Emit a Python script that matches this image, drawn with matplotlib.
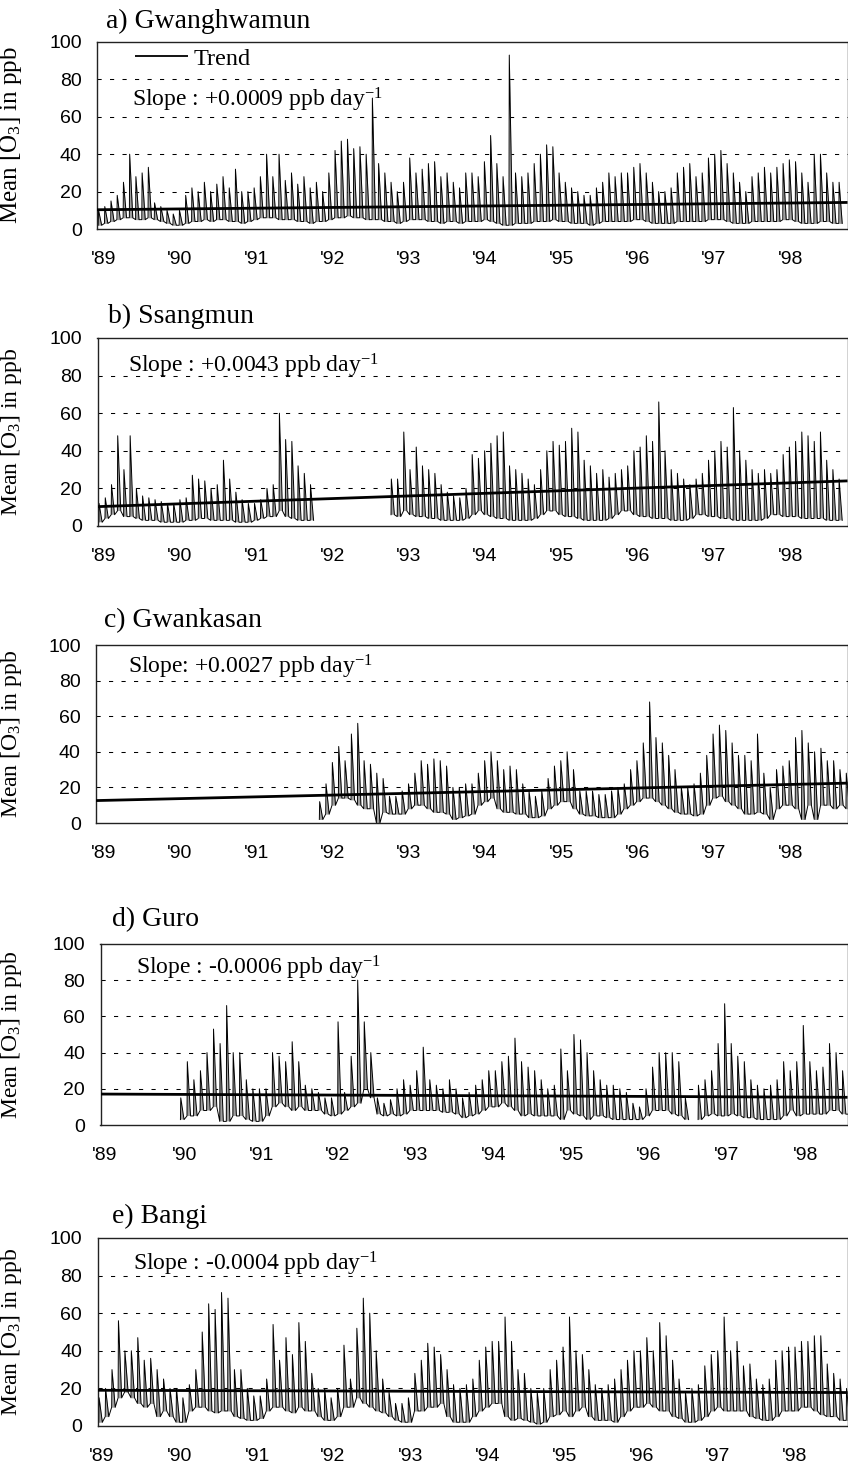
import numpy as np
import matplotlib
matplotlib.use("Agg")
import matplotlib.pyplot as plt

N = None
W, H = 848, 1468

plt.rcParams['font.family'] = ['Liberation Serif', 'DejaVu Serif']
plt.rcParams['mathtext.fontset'] = 'custom'
plt.rcParams['mathtext.rm'] = 'Liberation Serif'
plt.rcParams['mathtext.it'] = 'Liberation Serif:italic'
plt.rcParams['mathtext.bf'] = 'Liberation Serif:bold'

# ---------------- data (monthly upper / lower envelope of daily means, ppb) ----------
YEAR_LABELS = ["'89", "'90", "'91", "'92", "'93", "'94", "'95", "'96", "'97", "'98"]
Y_TICKS = [0, 20, 40, 60, 80, 100]
STATIONS = ["a) Gwanghwamun", "b) Ssangmun", "c) Gwankasan", "d) Guro", "e) Bangi"]
SLOPES = ["Slope : +0.0009 ppb day$^{-1}$", "Slope : +0.0043 ppb day$^{-1}$",
          "Slope: +0.0027 ppb day$^{-1}$", "Slope : -0.0006 ppb day$^{-1}$",
          "Slope : -0.0004 ppb day$^{-1}$"]
TREND_START = [10.3, 10.3, 12.6, 17.1, 19.0]
TREND_END = [14.2, 24.0, 22.4, 15.3, 17.8]

GW_HI = [10, 12, 15, 18, 25, 40, 28, 30, 33, 14, 12, 10,
         8, 10, 18, 22, 20, 25, 20, 24, 28, 22, 32, 20,
         20, 22, 28, 40, 28, 40, 26, 30, 24, 28, 22, 25,
         20, 30, 42, 47, 48, 43, 44, 40, 70, 35, 30, 25,
         20, 25, 38, 30, 32, 35, 36, 28, 30, 25, 22, 30,
         30, 28, 36, 50, 35, 28, 93, 30, 28, 30, 35, 40,
         45, 44, 30, 25, 22, 20, 18, 18, 22, 25, 30, 28,
         30, 30, 33, 35, 30, 25, 20, 20, 22, 30, 33, 35,
         28, 30, 38, 40, 42, 35, 30, 25, 20, 28, 30, 33,
         30, 33, 35, 37, 36, 30, 25, 40, 40, 30, 25, 25]
GW_LO = [2, 3, 4, 5, 6, 6, 5, 5, 6, 5, 4, 3,
         2, 2, 3, 4, 4, 5, 4, 5, 5, 4, 4, 3,
         4, 5, 6, 6, 6, 5, 5, 5, 4, 4, 3, 4,
         4, 5, 6, 6, 7, 6, 6, 5, 5, 5, 4, 4,
         3, 4, 5, 5, 5, 4, 4, 3, 4, 4, 3, 4,
         4, 4, 5, 4, 3, 2, 2, 3, 3, 3, 4, 4,
         4, 5, 4, 4, 3, 3, 3, 2, 3, 4, 4, 4,
         4, 4, 5, 5, 4, 3, 3, 3, 3, 4, 4, 4,
         4, 4, 5, 5, 5, 4, 3, 3, 3, 4, 4, 4,
         4, 4, 5, 5, 4, 3, 3, 3, 4, 4, 3, 3]

SS_HI = [12, 15, 22, 48, 30, 48, 20, 16, 15, 14, 13, 12,
         12, 14, 15, 27, 25, 24, 20, 22, 35, 25, 18, 14,
         12, 12, 14, 20, 22, 60, 46, 45, 32, 28, 22, N,
         N, N, N, N, N, N, N, N, N, N, N, 25,
         25, 50, 30, 42, 32, 30, 28, 22, 18, 16, 15, 20,
         38, 36, 40, 44, 48, 50, 32, 30, 28, 25, 22, 30,
         40, 45, 43, 45, 52, 50, 35, 32, 28, 30, 26, 28,
         30, 32, 40, 42, 48, 45, 66, 40, 30, 28, 25, 22,
         25, 28, 35, 40, 45, 42, 63, 40, 35, 30, 28, 30,
         28, 30, 38, 42, 45, 50, 48, 45, 50, 35, 30, 25]
SS_LO = [2, 4, 6, 8, 5, 5, 4, 3, 3, 3, 2, 2,
         2, 2, 3, 3, 4, 4, 3, 3, 3, 3, 2, 2,
         2, 3, 4, 5, 5, 8, 5, 4, 3, 3, 3, N,
         N, N, N, N, N, N, N, N, N, N, N, 6,
         5, 8, 6, 5, 5, 4, 4, 3, 3, 3, 3, 4,
         6, 8, 6, 5, 4, 4, 3, 3, 3, 3, 4, 6,
         8, 8, 6, 5, 5, 4, 3, 3, 3, 3, 4, 6,
         8, 8, 6, 5, 5, 4, 4, 4, 3, 3, 3, 4,
         6, 6, 5, 5, 4, 4, 3, 3, 3, 3, 3, 4,
         6, 6, 5, 5, 5, 4, 4, 4, 4, 3, 3, 3]

GK_HI = [N, N, N, N, N, N, N, N, N, N, N, N,
         N, N, N, N, N, N, N, N, N, N, N, N,
         N, N, N, N, N, N, N, N, N, N, N, 12,
         22, 34, 43, 35, 50, 56, 35, 33, 28, 25, 15, 15,
         18, 22, 28, 35, 33, 36, 35, 32, 20, 20, 22, 22,
         28, 35, 40, 35, 30, 32, 30, 22, 18, 15, 18, 25,
         32, 35, 40, 30, 18, 18, 18, 16, 16, 18, 20, 22,
         30, 35, 45, 68, 48, 45, 38, 30, 20, 20, 22, 28,
         38, 50, 55, 52, 45, 38, 38, 35, 50, 28, 20, 30,
         32, 35, 48, 52, 45, 40, 42, 35, 35, 30, 28, N]
GK_LO = [N, N, N, N, N, N, N, N, N, N, N, N,
         N, N, N, N, N, N, N, N, N, N, N, N,
         N, N, N, N, N, N, N, N, N, N, N, 2,
         5, 10, 14, 14, 13, 10, 8, 8, 0, 6, 5, 5,
         5, 8, 10, 10, 8, 6, 6, 5, 2, 3, 4, 5,
         10, 12, 14, 8, 6, 6, 5, 5, 3, 3, 4, 8,
         10, 12, 12, 8, 5, 4, 4, 3, 3, 3, 5, 8,
         10, 12, 14, 14, 12, 10, 8, 6, 5, 5, 4, 5,
         10, 14, 15, 12, 10, 8, 5, 5, 6, 5, 2, 8,
         10, 10, 8, 2, 10, 2, 10, 10, 8, 10, 8, N]

GU_HI = [N, N, N, N, N, N, N, N, N, N, N, N,
         15, 35, 25, 30, 40, 53, 45, 66, 40, 40, 25, 20,
         20, 20, 40, 38, 35, 46, 35, 22, 20, 18, 15, 15,
         57, 18, 38, 80, 57, 40, 15, 12, 14, 20, 25, 22,
         30, 43, 25, 22, 20, 25, 20, 15, 18, 22, 25, 30,
         30, 35, 38, 48, 35, 32, 30, 25, 20, 22, 42, 30,
         50, 47, 40, 30, 25, 22, 22, 20, 18, 12, 10, 20,
         32, 40, 40, 40, 35, 15, N, 22, 25, 30, 45, 67,
         45, 38, 35, 25, 22, 20, 22, 25, 35, 30, 35, 55,
         35, 30, 32, 45, 40, 30, 30, N, N, N, N, N]
GU_LO = [N, N, N, N, N, N, N, N, N, N, N, N,
         3, 5, 5, 8, 8, 10, 2, 2, 5, 5, 3, 2,
         2, 5, 10, 12, 10, 8, 10, 8, 8, 8, 6, 5,
         6, 8, 10, 12, 20, 15, 6, 5, 6, 5, 6, 8,
         8, 8, 8, 8, 7, 7, 6, 4, 5, 6, 8, 10,
         10, 12, 10, 8, 5, 6, 5, 5, 5, 5, 3, 8,
         6, 5, 3, 5, 5, 4, 3, 3, 3, 3, 3, 5,
         8, 8, 8, 6, 5, 3, N, 3, 5, 6, 5, 5,
         6, 5, 4, 4, 3, 3, 3, 3, 5, 8, 5, 6,
         6, 6, 6, 8, 8, 6, 6, N, N, N, N, N]

BA_HI = [15, 20, 30, 56, 40, 40, 47, 35, 36, 30, 25, 20,
         20, 15, 22, 30, 50, 65, 62, 71, 68, 30, 30, 20,
         16, 16, 25, 54, 35, 47, 38, 55, 45, 28, 20, 20,
         15, 20, 43, 25, 52, 68, 60, 40, 25, 18, 12, 12,
         15, 28, 35, 44, 42, 38, 30, 22, 20, 22, 25, 35,
         42, 45, 45, 58, 45, 30, 28, 20, 18, 20, 30, 35,
         42, 58, 40, 38, 30, 22, 20, 22, 25, 30, 35, 40,
         40, 47, 40, 55, 48, 35, 25, 18, 20, 22, 32, 38,
         40, 58, 40, 45, 32, 33, 25, 22, 25, 35, 40, 42,
         42, 45, 45, 48, 48, 33, 28, 25, 20, N, N, N]
BA_LO = [2, 5, 10, 15, 18, 15, 12, 10, 12, 5, 8, 5,
         2, 2, 8, 10, 10, 8, 7, 8, 8, 5, 4, 3,
         3, 4, 8, 10, 10, 8, 7, 10, 8, 8, 5, 3,
         3, 5, 10, 10, 15, 12, 10, 8, 7, 5, 3, 2,
         2, 8, 8, 10, 10, 12, 5, 2, 2, 2, 5, 8,
         10, 12, 12, 5, 3, 4, 3, 2, 1, 2, 5, 6,
         8, 5, 8, 10, 5, 3, 3, 3, 2, 5, 8, 10,
         10, 12, 10, 8, 8, 5, 4, 2, 2, 3, 5, 8,
         10, 8, 8, 8, 8, 5, 4, 3, 3, 5, 8, 8,
         8, 10, 10, 8, 6, 5, 5, 3, 3, N, N, N]

SERIES_HI = [GW_HI, SS_HI, GK_HI, GU_HI, BA_HI]
SERIES_LO = [GW_LO, SS_LO, GK_LO, GU_LO, BA_LO]

# ---------------- layout (pixels) ----------------
LEFT = [97, 97.5, 96, 100.5, 97.5]
TOP = [42, 338, 645, 944, 1238]
BOT = [229, 526, 823, 1125, 1426]
XMIN = [1989.0, 1989.0, 1989.0, 1989.0, 1989.0]
XMAX = [1999.05, 1999.05, 1998.87, 1998.50, 1998.70]
LABEL_PX_ABC = [104, 180, 257, 333, 409, 485, 562, 638, 714, 791]
LABEL_PX = [LABEL_PX_ABC, LABEL_PX_ABC, LABEL_PX_ABC,
            [105, 185, 262, 338, 416, 494, 572, 649, 727, 806],
            [102, 180, 258, 333, 411, 488, 565, 642, 718, 795]]
TITLE_XY = [(106, 28), (108, 323), (104, 627), (112, 926), (112, 1223)]
SLOPE_XY = [(132, 107), (128, 372), (128, 674), (136, 975), (133, 1271)]
YLABEL_SIZE = [18, 17, 17, 17, 17]
RIGHT = 847.5

fig = plt.figure(figsize=(W / 100, H / 100), dpi=100)


def fx(x):
    return x / W


def fy(y):
    return 1 - y / H


def sawtooth(hi, lo):
    xs, ys, base = [], [], []
    for i, (h, l) in enumerate(zip(hi, lo)):
        t0 = 1989 + i / 12.0
        if h is None or l is None:
            xs.append(np.nan)
            ys.append(np.nan)
            base.append(np.nan)
            continue
        xs += [t0 + 0.2 / 12, t0 + 0.25 / 12, t0 + 0.75 / 12]
        ys += [l, h, l]
        base += [l, l, l]
    return np.array(xs), np.array(ys), np.array(base)


for k in range(5):
    L, T, B = LEFT[k], TOP[k], BOT[k]
    axw = RIGHT - L
    ax = fig.add_axes([fx(L), fy(B), axw / W, (B - T) / H])
    ax.set_xlim(XMIN[k], XMAX[k])
    ax.set_ylim(0, 100)
    for g in [20, 40, 60, 80]:
        ax.axhline(g, color='black', lw=0.75, ls=(0, (4, 8)), zorder=1)
    xs, ys, base = sawtooth(SERIES_HI[k], SERIES_LO[k])
    ok = ~np.isnan(ys)
    ax.fill_between(xs, base, ys, where=ok, color='0.62', lw=0, zorder=1.5)
    ax.plot(xs, ys, color='black', lw=0.7, zorder=2)
    tr, = ax.plot([XMIN[k], XMAX[k]], [TREND_START[k], TREND_END[k]],
                  color='black', lw=2.0, zorder=3, solid_capstyle='butt')
    ax.set_yticks(Y_TICKS)
    ax.set_yticklabels([str(v) for v in Y_TICKS], family='Liberation Sans', fontsize=14)
    span = XMAX[k] - XMIN[k]
    ax.set_xticks([XMIN[k] + (p - L) / axw * span for p in LABEL_PX[k]])
    ax.set_xticklabels(YEAR_LABELS, family='Liberation Sans', fontsize=14)
    ax.tick_params(axis='both', length=0)
    ax.tick_params(axis='y', pad=11)
    ax.tick_params(axis='x', pad=16)
    for s in ax.spines.values():
        s.set_color('#222222')
        s.set_linewidth(1.0)
    ax.set_ylabel('Mean [O$_3$] in ppb', fontsize=YLABEL_SIZE[k])
    ax.yaxis.set_label_coords(-(L - 24) / axw, 0.5)
    tx, ty = TITLE_XY[k]
    fig.text(fx(tx), fy(ty), STATIONS[k], fontsize=20, ha='left', va='baseline')
    sx, sy = SLOPE_XY[k]
    fig.text(fx(sx), fy(sy), SLOPES[k], fontsize=17, ha='left', va='baseline')
    if k == 0:
        leg = ax.legend([tr], ['Trend'], loc='center left',
                        bbox_to_anchor=((135 - L) / axw, (B - 59) / (B - T)),
                        frameon=False, handlelength=2.2, handletextpad=0.2,
                        borderaxespad=0, borderpad=0, prop={'size': 17.5})
        leg.legend_handles[0].set_linewidth(1.3)

fig.savefig('out.png', dpi=100)
